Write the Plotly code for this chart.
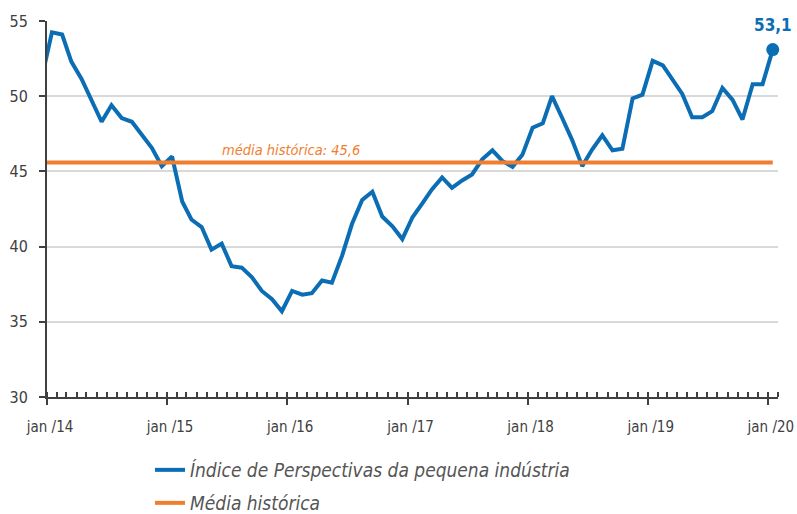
import plotly.graph_objects as go
import pandas as pd

# Monthly index values, Dec/2013 .. Jan/2020 (Dec/2013 only enters the clipped edge)
months = pd.date_range("2013-12-01", "2020-01-01", freq="MS") + pd.Timedelta(days=15)
indice = [
    51.2,
    54.25, 54.1, 52.3, 51.15, 49.7, 48.3, 49.4, 48.55, 48.3, 47.4, 46.55, 45.35,   # 2014
    46.0, 43.0, 41.8, 41.3, 39.8, 40.2, 38.7, 38.6, 37.95, 37.05, 36.5, 35.7,      # 2015
    37.05, 36.8, 36.9, 37.75, 37.6, 39.4, 41.5, 43.1, 43.65, 42.0, 41.35, 40.5,    # 2016
    41.95, 42.9, 43.8, 44.6, 43.9, 44.4, 44.8, 45.8, 46.4, 45.7, 45.3, 46.1,       # 2017
    47.9, 48.2, 50.0, 48.55, 47.1, 45.35, 46.45, 47.4, 46.4, 46.5, 49.85, 50.1,    # 2018
    52.35, 52.05, 51.1, 50.15, 48.6, 48.6, 49.0, 50.55, 49.75, 48.45, 50.8, 50.8,  # 2019
    53.1,                                                                           # jan/20
]
media_historica = 45.6
last_label = "53,1"
media_label = "média histórica: 45,6"

tick_dates = pd.date_range("2014-01-01", "2020-01-01", freq="YS")
tick_labels = ["jan /14", "jan /15", "jan /16", "jan /17", "jan /18", "jan /19", "jan /20"]
y_ticks = [30, 35, 40, 45, 50, 55]

BLUE = "#0b6db3"
ORANGE = "#f07e2e"
FONT = "DejaVu Sans Condensed, Liberation Sans Narrow, Roboto, sans-serif"

fig = go.Figure()
fig.add_trace(go.Scatter(
    x=list(months), y=indice, mode="lines",
    line=dict(color=BLUE, width=4),
    name="Índice de Perspectivas da pequena indústria",
    legend="legend",
))
fig.add_trace(go.Scatter(
    x=[pd.Timestamp("2014-01-01"), months[-1]], y=[media_historica, media_historica],
    mode="lines", line=dict(color=ORANGE, width=4),
    name="Média histórica",
    legend="legend2",
))
fig.add_trace(go.Scatter(
    x=[months[-1]], y=[indice[-1]], mode="markers",
    marker=dict(color=BLUE, size=13), showlegend=False, cliponaxis=False,
))

fig.add_annotation(
    x=months[-1], y=indice[-1], text="<b>" + last_label + "</b>",
    showarrow=False, yshift=25, font=dict(color=BLUE, size=17, family=FONT),
)
fig.add_annotation(
    x=pd.Timestamp("2016-01-01"), y=media_historica, text=media_label,
    showarrow=False, yanchor="bottom", yshift=2, xshift=4,
    font=dict(color=ORANGE, size=14.5, family=FONT, style="italic"),
)

legend_style = dict(
    xanchor="left", yanchor="middle", xref="container", yref="container",
    font=dict(size=19, color="#555555", family=FONT, style="italic"),
    bgcolor="rgba(0,0,0,0)", itemwidth=30,
)

fig.update_layout(
    width=797, height=514,
    margin=dict(l=47, r=19, t=21, b=117, autoexpand=False),
    plot_bgcolor="white", paper_bgcolor="white",
    font=dict(family=FONT, color="#404040", size=15),
    showlegend=True,
    legend=dict(x=150 / 797, y=1 - 470 / 514, **legend_style),
    legend2=dict(x=150 / 797, y=1 - 503 / 514, **legend_style),
    xaxis=dict(
        type="date", automargin=False,
        range=[pd.Timestamp("2014-01-01"), pd.Timestamp("2020-02-01")],
        tickvals=list(tick_dates), ticktext=tick_labels,
        showgrid=False, zeroline=False,
        showline=True, linecolor="#404040", linewidth=2,
        ticks="outside", ticklen=6, tickwidth=2, tickcolor="#404040",
        ticklabelstandoff=9, ticklabelshift=3,
        minor=dict(ticks="inside", dtick="M1", tick0="2014-01-01",
                   ticklen=5, tickwidth=1.5, tickcolor="#404040", showgrid=False),
        tickfont=dict(size=15, color="#404040"),
    ),
    yaxis=dict(
        range=[30, 55], tickvals=y_ticks, automargin=False,
        showgrid=True, gridcolor="#d9d9d9", gridwidth=2,
        zeroline=False,
        showline=True, linecolor="#404040", linewidth=2,
        ticks="outside", ticklen=6, tickwidth=2, tickcolor="#404040",
        ticklabelstandoff=8,
        tickfont=dict(size=16, color="#404040"),
    ),
)

fig.write_html("out.html", config={"displayModeBar": False},
               post_script="document.body.style.margin='0';")
